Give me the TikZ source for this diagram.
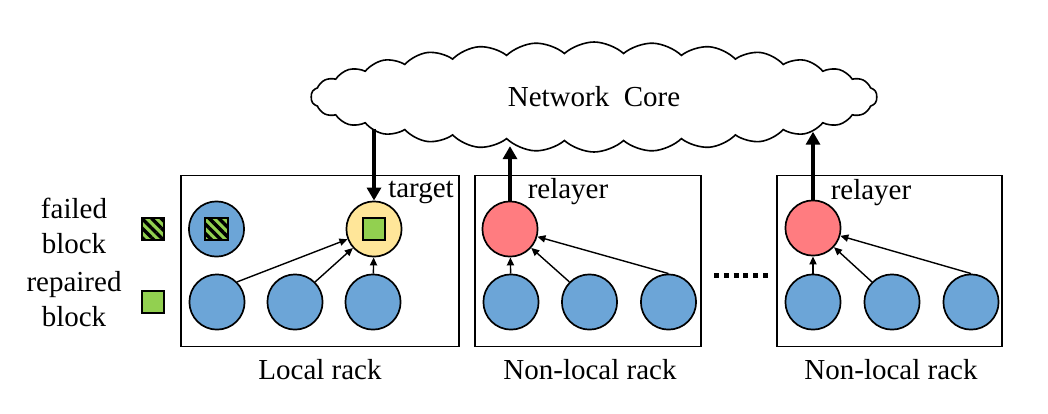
\documentclass[tikz,border=0pt]{standalone}
\usepackage{fontspec}
\setmainfont{Liberation Serif}
\usetikzlibrary{shapes.symbols,arrows.meta,patterns.meta}
\definecolor{diskblue}{RGB}{108,165,215}
\definecolor{targetyellow}{RGB}{255,230,153}
\definecolor{relayred}{RGB}{255,124,128}
\definecolor{blockgreen}{RGB}{146,208,80}
\tikzset{
  core/.style={cloud, draw, line width=0.8pt, cloud puffs=30,
    cloud puff arc=85, cloud ignores aspect,
    minimum width=283pt, minimum height=55pt},
  rack/.style={draw, line width=0.85pt, minimum height=85.5pt, inner sep=0pt},
  disk/.style={circle, draw, line width=0.85pt, fill=diskblue,
    minimum size=27.6pt, inner sep=0pt},
  block/.style={draw, line width=0.85pt, fill=blockgreen,
    minimum size=11.3pt, inner sep=0pt},
  failedblock/.style={block, postaction={pattern={Lines[angle=-45,
    distance=3.4pt, line width=1.7pt]}, pattern color=black}},
  feed/.style={-{Triangle[length=4pt,width=3.6pt]}, line width=0.7pt},
  uplink/.style={-{Triangle[length=6.5pt,width=7pt]}, line width=2.4pt},
  tag/.style={anchor=base, inner sep=0pt},
}
\begin{document}
\begin{tikzpicture}[x=0.5pt,y=-0.5pt,font=\fontsize{14.5}{17.5}\selectfont]
  \useasboundingbox (0,0) rectangle (1048,413);

  % Network core
  \node[core] (core) at (594,97) {Network\ \ Core};

  % Racks
  \node[rack, minimum width=139.3pt] (local) at (320,261) {};
  \node[rack, minimum width=113.3pt] (rackA) at (588,261) {};
  \node[rack, minimum width=112.8pt] (rackB) at (889.5,261) {};
  \node[tag] (localLabel) at (320,379) {Local rack};
  \node[tag] (rackALabel) at (590,379) {Non-local rack};
  \node[tag] (rackBLabel) at (891,379) {Non-local rack};

  % Local rack
  \node[disk] (failed) at (216.5,229) {};
  \node[failedblock] (failedIn) at (failed) {};
  \node[disk, fill=targetyellow] (target) at (374,229) {};
  \node[block] (repairedIn) at (target) {};
  \node[disk] (l1) at (217,302) {};
  \node[disk] (l2) at (295,302) {};
  \node[disk] (l3) at (373,302) {};
  \node[tag] (targetLabel) at (421,197) {target};

  % Non-local racks
  \node[disk, fill=relayred] (relayA) at (510,229) {};
  \node[disk] (a1) at (511,302) {};
  \node[disk] (a2) at (589.5,302) {};
  \node[disk] (a3) at (668.5,302) {};
  \node[tag] (relayALabel) at (568,198) {relayer};

  \node[disk, fill=relayred] (relayB) at (813,228) {};
  \node[disk] (b1) at (813,302) {};
  \node[disk] (b2) at (892,302) {};
  \node[disk] (b3) at (971,302) {};
  \node[tag] (relayBLabel) at (871,199) {relayer};

  \draw[line width=2.5pt, dash pattern=on 2.5pt off 2.4pt] (714,275) -- (768,275);

  % Legend
  \node[failedblock] (failedKey) at (153,229) {};
  \node[block] (repairedKey) at (153,302) {};
  \node[align=center, inner sep=0pt] (failedText) at (74,226) {failed\\block};
  \node[align=center, inner sep=0pt] (repairedText) at (74,299) {repaired\\block};

  % Transfers
  \draw[feed] (l1.north east) -- (target);
  \draw[feed] (l2.north east) -- (target);
  \draw[feed] (l3) -- (target);
  \draw[feed] (a1) -- (relayA);
  \draw[feed] (a2.north west) -- (relayA);
  \draw[feed] (a3.north) -- (relayA);
  \draw[feed] (b1) -- (relayB);
  \draw[feed] (b2.north west) -- (relayB);
  \draw[feed] (b3.north) -- (relayB);

  \draw[uplink] (target |- core.188) -- (target);
  \draw[uplink] (relayA) -- (relayA |- core.212);
  \draw[uplink] (relayB) -- (relayB |- core.351);
\end{tikzpicture}
\end{document}
